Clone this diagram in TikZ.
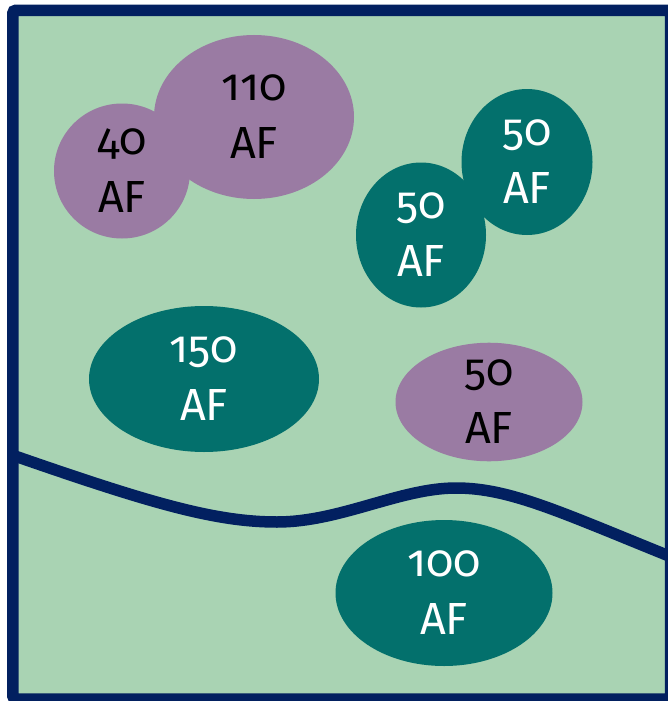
\documentclass[tikz,border=0pt]{standalone}
\usepackage{fontspec}
\setmainfont{Fira Sans}[Numbers=OldStyle]
\usepackage{tikz}
\usetikzlibrary{shapes.geometric}

\definecolor{meadow}{HTML}{A9D3B3}
\definecolor{navy}{HTML}{022060}
\definecolor{plum}{HTML}{9A7BA3}
\definecolor{pine}{HTML}{03706C}

\tikzset{
	pond/.style={ellipse, inner sep=0pt, align=center, font=\fontsize{45}{58}\selectfont},
	dry/.style={pond, fill=plum, text=black},
	wet/.style={pond, fill=pine, text=white},
	edge/.style={navy, line width=11.5pt}
}

\begin{document}
\begin{tikzpicture}[x=1pt, y=-1pt]
			\useasboundingbox (0,0) rectangle (668,701);
			\fill[white] (0,0) rectangle (668,701);
			\fill[meadow] (12.8,10.3) rectangle (670.5,699);

			\node[dry, minimum width=200, minimum height=164] (pond110) at (254,117) {110\\AF};
			\node[dry, minimum width=136, minimum height=135] (pond40) at (122,171) {40\\AF};
			\node[wet, minimum width=131, minimum height=146] (pondR) at (527,162) {50\\AF};
			\node[wet, minimum width=130, minimum height=145] (pondL) at (421,235) {50\\AF};
			\node[wet, minimum width=230, minimum height=146] (pond150) at (204,379) {150\\AF};
			\node[dry, minimum width=187, minimum height=118] (pondP) at (489,402) {50\\AF};
			\node[wet, minimum width=217, minimum height=146] (pond100) at (444,593) {100\\AF};

			\coordinate (west) at (12,455);
			\coordinate (low) at (277,522);
			\coordinate (high) at (456,488);
			\coordinate (east) at (674,558);
			\draw[edge] (west) .. controls (150,503) and (215,522) .. (low)
				.. controls (340,522) and (400,488) .. (high)
				.. controls (510,488) and (560,512) .. (east);

			\draw[edge, rounded corners=3pt] (12.8,10.3) rectangle (670.5,699);
		\end{tikzpicture}
\end{document}
